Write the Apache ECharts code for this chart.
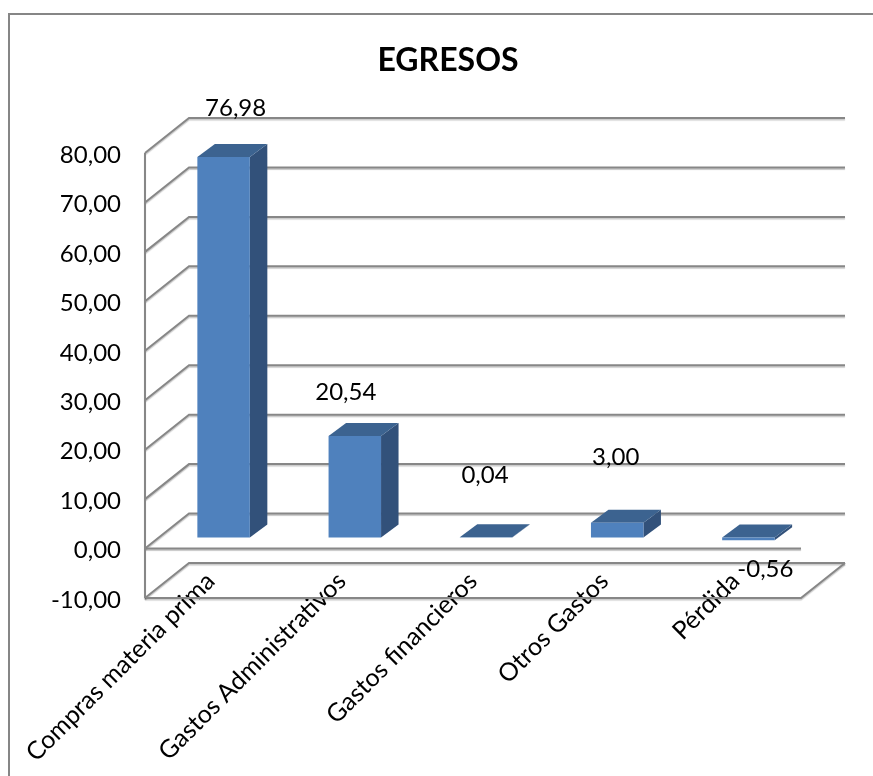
<!DOCTYPE html>
<html><head><meta charset="utf-8">
<style>html,body{margin:0;padding:0;background:#fff}#c{width:873px;height:776px}</style>
<script src="https://cdn.jsdelivr.net/npm/echarts@6/dist/echarts.min.js"></script>
</head><body><div id="c"></div>
<script>
const categories = ['Compras materia prima','Gastos Administrativos','Gastos financieros','Otros Gastos','Pérdida'];
const values = [76.98,20.54,0.04,3.00,-0.56];
const yTicks = [-10,0,10,20,30,40,50,60,70,80];
const FONT = 'Lato';
const fmt = v => v.toFixed(2).replace('.', ',');

const wallDX = 44, wallDY = -35;      // oblique depth of the chart box
const barBaseDX = 13, barBaseDY = -11; // where the bars stand inside the box
const barDX = 17.5, barDY = -13;      // oblique depth of one bar
const labelNudge = [[12,-49],[-9,-44],[-1,-62],[-1.5,-65],[17,29]];
const lineStyle = {stroke:'#878787',lineWidth:2,fill:null,shadowColor:'rgba(0,0,0,0.22)',shadowOffsetY:1.5,shadowBlur:1};

const chart = echarts.init(document.getElementById('c'),null,{renderer:'canvas'});
chart.setOption({
  animation:false,
  backgroundColor:'#fff',
  title:{text:'EGRESOS',left:443,top:40,textAlign:'center',textStyle:{fontFamily:FONT,fontSize:32,fontWeight:'bold',color:'#000'}},
  graphic:[{type:'polyline',silent:true,shape:{points:[[9,776],[9,14],[873,14]]},style:{stroke:'#868686',lineWidth:2,fill:null}}],
  grid:{left:145,right:72,top:153,bottom:178,containLabel:false},
  xAxis:{type:'category',data:categories,position:'bottom',
    axisLine:{show:false,onZero:false},axisTick:{show:false},
    axisLabel:{interval:0,rotate:45,margin:-21,fontFamily:FONT,fontSize:25,color:'#000',hideOverlap:false}},
  yAxis:{type:'value',min:-10,max:80,interval:10,
    axisLine:{show:false},axisTick:{show:false},splitLine:{show:false},
    axisLabel:{margin:24,color:'#000',formatter:v=>'{a|'+fmt(v)+'}',
      rich:{a:{fontFamily:FONT,fontSize:24,color:'#000',padding:[4,0,0,0]}}}},
  series:[
    {type:'custom',coordinateSystem:'cartesian2d',silent:true,z:1,clip:false,
     data:yTicks.map(v=>[0,v]),encode:{x:0,y:1},
     renderItem(params,api){
       const cs=params.coordSys, y=api.coord([0,api.value(1)])[1];
       const l=cs.x, r=cs.x+cs.width, v=api.value(1);
       const kids=[{type:'polyline',shape:{points:[[l,y],[l+wallDX,y+wallDY],[r+wallDX,y+wallDY]]},style:lineStyle}];
       if(v===0) kids.push({type:'line',shape:{x1:l,y1:y,x2:r,y2:y},style:lineStyle});
       if(v===yTicks[0]) kids.push({type:'polyline',shape:{points:[[r+wallDX,y+wallDY],[r,y],[l,y]]},style:lineStyle});
       if(v===yTicks[yTicks.length-1]) kids.push({type:'line',shape:{x1:l,y1:y,x2:l,y2:api.coord([0,yTicks[0]])[1]},style:lineStyle});
       return {type:'group',children:kids};
     }},
    {type:'custom',coordinateSystem:'cartesian2d',silent:true,z:2,clip:false,
     data:values.map((v,i)=>[i,v]),encode:{x:0,y:1},
     renderItem(params,api){
       const i=api.value(0), v=api.value(1);
       const p0=api.coord([i,0]), p1=api.coord([i,v]);
       const w=api.size([1,0])[0]*0.4;
       const x1=p0[0]+barBaseDX-w/2, x2=x1+w;
       const ya=p0[1]+barBaseDY, yb=p1[1]+barBaseDY;
       const top=Math.min(ya,yb), bot=Math.max(ya,yb);
       const n=labelNudge[i];
       return {type:'group',children:[
         {type:'polygon',shape:{points:[[x2,top],[x2+barDX,top+barDY],[x2+barDX,bot+barDY],[x2,bot]]},style:{fill:'#32517A'}},
         {type:'polygon',shape:{points:[[x1,top],[x1+barDX,top+barDY],[x2+barDX,top+barDY],[x2,top]]},style:{fill:'#3C6390'}},
         {type:'rect',shape:{x:x1,y:top,width:w,height:bot-top},style:{fill:'#4F81BD'}},
         {type:'text',style:{text:fmt(v),x:(x1+x2)/2+n[0],y:yb+n[1],align:'center',verticalAlign:'middle',font:'24px '+FONT,fill:'#000'}}
       ]};
     }}
  ]
});
</script></body></html>
